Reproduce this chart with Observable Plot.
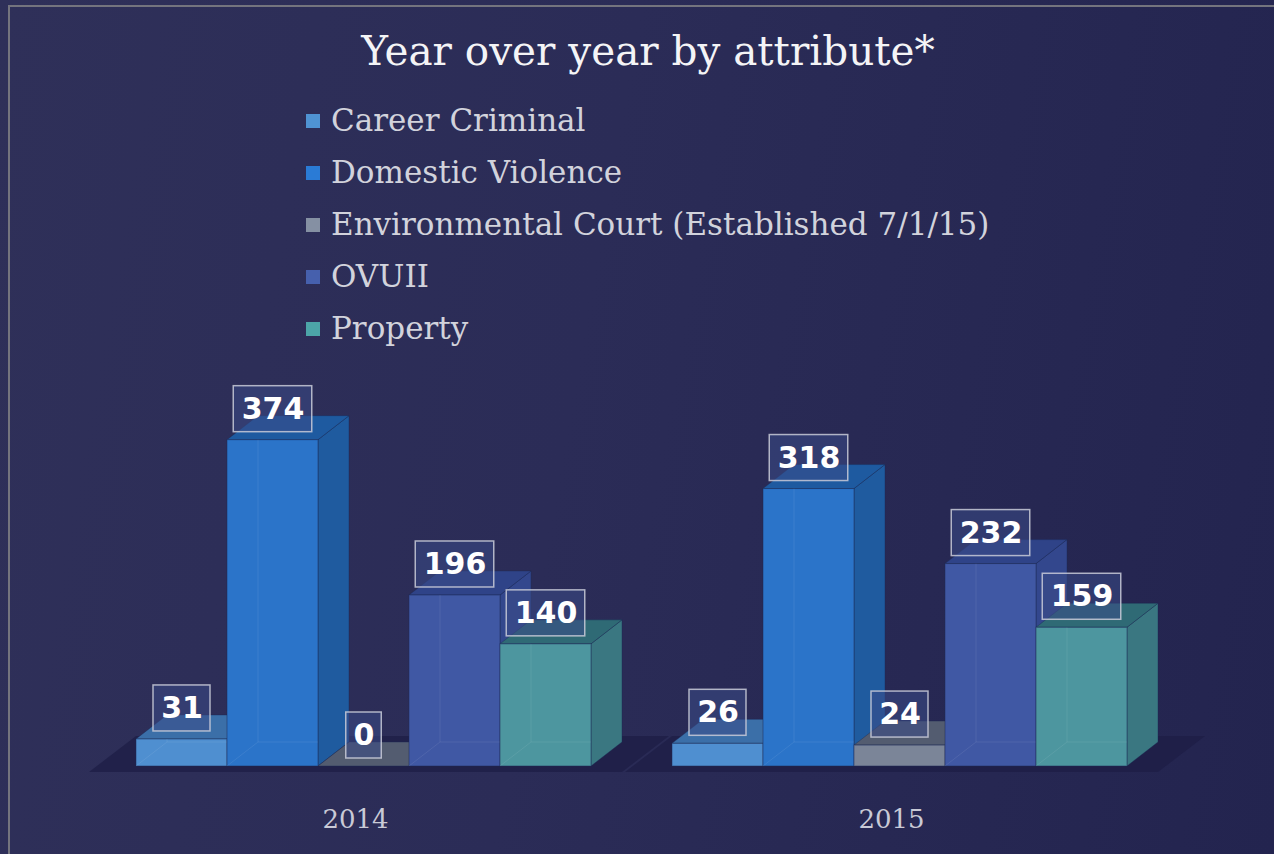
<!DOCTYPE html>
<html><head><meta charset="utf-8">
<script src="https://cdn.jsdelivr.net/npm/d3@7"></script>
<script src="https://cdn.jsdelivr.net/npm/@observablehq/plot@0.6"></script>
<style>
html,body{margin:0;padding:0;width:1274px;height:854px;overflow:hidden;}
body{background:linear-gradient(100deg,#2f3059 0%,#2b2c57 45%,#23244f 100%);position:relative;}
#border{position:absolute;left:8px;top:5px;width:1400px;height:1000px;border-left:2px solid #74747e;border-top:2px solid #74747e;}
#title{position:absolute;left:0;width:1296px;top:31px;text-align:center;font-family:"DejaVu Serif",serif;font-size:40.5px;color:#f4f4f6;line-height:1;}
#legend{position:absolute;left:306px;top:94px;font-family:"DejaVu Serif",serif;font-size:31px;color:#d2d3dc;}
.item{height:52px;display:flex;align-items:center;white-space:nowrap;}
.sw{width:14px;height:14px;margin-right:11px;margin-top:2px;}
#chart{position:absolute;left:0;top:350px;}
</style></head>
<body>
<div id="border"></div>
<div id="title"></div>
<div id="legend"></div>
<div id="chart"></div>
<script>
const titleText = "Year over year by attribute*";
const years = ["2014", "2015"];
const categories = ["Career Criminal", "Domestic Violence", "Environmental Court (Established 7/1/15)", "OVUII", "Property"];
const values2014 = [31, 374, 0, 196, 140];
const values2015 = [26, 318, 24, 232, 159];
const frontColors = ["#4f8fd0", "#2b74c9", "#7b8598", "#4058a4", "#4d969f"];
const sideColors  = ["#3d74ad", "#1f5b9f", "#5d6678", "#33478d", "#3a7781"];
const topColors   = ["#3b6fa8", "#1e5aa0", "#535c70", "#2f4388", "#2f6a75"];
const legendColors = ["#4f93d3", "#2a7bd6", "#8590a3", "#4660ad", "#4ca5a8"];

document.getElementById("title").textContent = titleText;
const legend = document.getElementById("legend");
categories.forEach((c, i) => {
  const row = document.createElement("div"); row.className = "item";
  const sw = document.createElement("div"); sw.className = "sw"; sw.style.background = legendColors[i];
  const t = document.createElement("span"); t.textContent = c;
  row.appendChild(sw); row.appendChild(t); legend.appendChild(row);
});

const data = [];
years.forEach((y, yi) => {
  const vals = yi === 0 ? values2014 : values2015;
  categories.forEach((c, ci) => data.push({year: y, cat: c, ci, value: vals[ci]}));
});

const DX = 31, DY = 24;
function bw(scales) {
  const b = scales.x.bandwidth;
  return typeof b === "function" ? b.call(scales.x) : b;
}

function render3d(index, scales, values) {
  const g = d3.create("svg:g");
  const w = bw(scales);
  const idx = Array.from(index).sort((a, b) => data[a].ci - data[b].ci);
  const xs = idx.map(i => values.x[i]);
  const x0 = Math.min(...xs), x1 = Math.max(...xs) + w;
  const yb = scales.y(0);
  g.append("polygon")
    .attr("points", [[x0 - 47, yb + 6], [x1 + 31, yb + 6], [x1 + 78, yb - 30], [x0, yb - 30]].join(" "))
    .attr("fill", "#1d1e45").attr("fill-opacity", 0.75);
  for (const i of idx) {
    const d = data[i];
    const a = values.x[i], b = a + w;
    const bot = Math.max(values.y1[i], values.y2[i]);
    const top = Math.min(values.y1[i], values.y2[i]);
    g.append("polygon")
      .attr("points", [[b, bot], [b + DX, bot - DY], [b + DX, top - DY], [b, top]].join(" "))
      .attr("fill", sideColors[d.ci]).attr("stroke", "#1b2a55").attr("stroke-opacity", 0.4);
    g.append("polygon")
      .attr("points", [[a, top], [a + DX, top - DY], [b + DX, top - DY], [b, top]].join(" "))
      .attr("fill", topColors[d.ci]).attr("stroke", "#1b2a55").attr("stroke-opacity", 0.4);
    g.append("rect")
      .attr("x", a).attr("y", top).attr("width", w).attr("height", bot - top)
      .attr("fill", frontColors[d.ci]).attr("stroke", "#1b2a55").attr("stroke-opacity", 0.5);
    if (bot - top > DY) {
      g.append("path")
        .attr("d", `M${a + DX},${top}V${bot - DY}H${b}M${a},${bot}L${a + DX},${bot - DY}`)
        .attr("stroke", "#ffffff").attr("stroke-opacity", 0.08).attr("fill", "none");
    }
  }
  return g.node();
}

function renderLabels(index, scales, values, dimensions, context, next) {
  const g = d3.create("svg:g");
  const w = bw(scales);
  for (const i of index) {
    const n = String(data[i].value).length;
    const bwid = 14 + 21.5 * n;
    const cx = values.x[i] + w / 2, cy = values.y[i] - 31;
    g.append("rect").attr("x", cx - bwid / 2).attr("y", cy - 23).attr("width", bwid).attr("height", 46)
      .attr("fill", "#3a4a86").attr("fill-opacity", 0.55)
      .attr("stroke", "#c9cbd8").attr("stroke-opacity", 0.85).attr("stroke-width", 1.5);
  }
  g.append(() => next(index, scales, values, dimensions, context));
  return g.node();
}

const chart = Plot.plot({
  width: 1274,
  height: 504,
  marginLeft: 134,
  marginRight: 145,
  marginTop: 67,
  marginBottom: 88,
  style: {background: "transparent", overflow: "visible"},
  fx: {domain: years, paddingInner: 0.1455, paddingOuter: 0, label: null},
  x: {domain: categories, padding: 0, axis: null},
  y: {domain: [0, 400], axis: null},
  marks: [
    Plot.barY(data, {x: "cat", y: "value", fx: "year", render: render3d}),
    Plot.text(data, {x: "cat", y: "value", fx: "year", text: d => String(d.value), dy: -31,
      fill: "#ffffff", fontWeight: "bold", fontSize: 30, fontFamily: "DejaVu Sans", render: renderLabels}),
    Plot.axisFx({anchor: "bottom", tickSize: 0, tickPadding: 43, label: null, dx: -8,
      fontSize: 26, fontFamily: "DejaVu Serif", fill: "#c9cad6"})
  ]
});
document.getElementById("chart").appendChild(chart);
</script>
</body></html>
